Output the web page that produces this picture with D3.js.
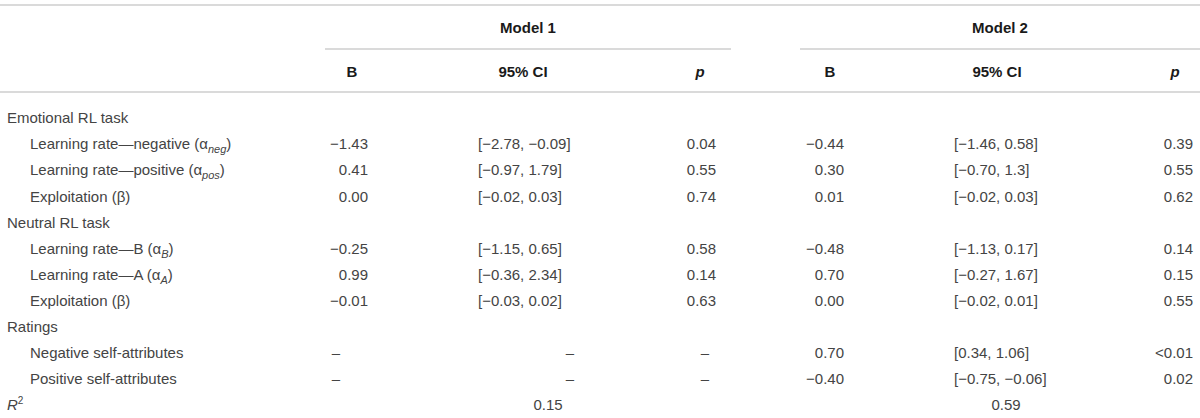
<!DOCTYPE html>
<html>
<head>
<meta charset="utf-8">
<script src="https://cdn.jsdelivr.net/npm/d3@7"></script>
<style>
  html, body { margin: 0; padding: 0; background: #fff; }
  svg { display: block; font-family: "Helvetica Neue", "Liberation Sans", Arial, sans-serif; }
  .cell { font-size: 15px; fill: #444; font-weight: 300; }
  .head { font-size: 15px; fill: #1a1a1a; font-weight: 700; }
</style>
</head>
<body>
<div id="table"></div>
<script>
// row labels (sub = subscript after alpha)
const rowLabels = [
  { text: "Emotional RL task", indent: false },
  { text: "Learning rate\u2014negative (\u03b1", sub: "neg", indent: true },
  { text: "Learning rate\u2014positive (\u03b1", sub: "pos", indent: true },
  { text: "Exploitation (\u03b2)", indent: true },
  { text: "Neutral RL task", indent: false },
  { text: "Learning rate\u2014B (\u03b1", sub: "B", indent: true },
  { text: "Learning rate\u2014A (\u03b1", sub: "A", indent: true },
  { text: "Exploitation (\u03b2)", indent: true },
  { text: "Ratings", indent: false },
  { text: "Negative self-attributes", indent: true },
  { text: "Positive self-attributes", indent: true },
  { text: "R", sup: "2", indent: false, italic: true }
];

const models = ["Model 1", "Model 2"];
const colHeads = ["B", "95% CI", "p"];

// Model 1
const m1B  = ["", "\u22121.43", "0.41", "0.00", "", "\u22120.25", "0.99", "\u22120.01", "", "\u2013", "\u2013", ""];
const m1CI = ["", "[\u22122.78, \u22120.09]", "[\u22120.97, 1.79]", "[\u22120.02, 0.03]", "", "[\u22121.15, 0.65]", "[\u22120.36, 2.34]", "[\u22120.03, 0.02]", "", "\u2013", "\u2013", ""];
const m1P  = ["", "0.04", "0.55", "0.74", "", "0.58", "0.14", "0.63", "", "\u2013", "\u2013", ""];
// Model 2
const m2B  = ["", "\u22120.44", "0.30", "0.01", "", "\u22120.48", "0.70", "0.00", "", "0.70", "\u22120.40", ""];
const m2CI = ["", "[\u22121.46, 0.58]", "[\u22120.70, 1.3]", "[\u22120.02, 0.03]", "", "[\u22121.13, 0.17]", "[\u22120.27, 1.67]", "[\u22120.02, 0.01]", "", "[0.34, 1.06]", "[\u22120.75, \u22120.06]", ""];
const m2P  = ["", "0.39", "0.55", "0.62", "", "0.14", "0.15", "0.55", "", "<0.01", "0.02", ""];
const rSquared = ["0.15", "0.59"];

const width = 1200, height = 418;

const svg = d3.select("#table").append("svg")
  .attr("width", width)
  .attr("height", height);

// vertical layout: body rows on a point scale
const y = d3.scalePoint()
  .domain(d3.range(rowLabels.length))
  .range([118, 405]);

// column layout for each model
const modelSpan = [[325, 731], [800, 1200]];
const colLayout = [
  [ { head: 352, x: 368, anchor: "end" }, { head: 523, x: 478, anchor: "start" }, { head: 700, x: 716, anchor: "end" } ],
  [ { head: 830, x: 844, anchor: "end" }, { head: 997, x: 954, anchor: "start" }, { head: 1175, x: 1193, anchor: "end" } ]
];
// dashes sit at their own spots
const dashX = [[336, 570, 705], [0, 0, 0]];
const values = [[m1B, m1CI, m1P], [m2B, m2CI, m2P]];
const r2X = [548, 1006];

const rule = (x1, x2, yy) => svg.append("line")
  .attr("x1", x1).attr("x2", x2).attr("y1", yy).attr("y2", yy)
  .attr("stroke", "#dadada").attr("stroke-width", 1.8);

rule(0, width, 5);
rule(0, width, 92);
modelSpan.forEach(s => rule(s[0], s[1], 49));

// model headers
svg.selectAll("text.model")
  .data(models)
  .enter().append("text")
  .attr("class", "head")
  .attr("x", (d, i) => (modelSpan[i][0] + modelSpan[i][1]) / 2)
  .attr("y", 28)
  .attr("dy", "0.35em")
  .attr("text-anchor", "middle")
  .text(d => d);

// column headers
models.forEach((m, mi) => {
  svg.selectAll(null)
    .data(colHeads)
    .enter().append("text")
    .attr("class", "head")
    .attr("x", (d, ci) => colLayout[mi][ci].head)
    .attr("y", 72)
    .attr("dy", "0.35em")
    .attr("text-anchor", "middle")
    .style("font-style", d => d === "p" ? "italic" : "normal")
    .text(d => d);
});

// row labels
const labels = svg.selectAll("text.label")
  .data(rowLabels)
  .enter().append("text")
  .attr("class", "cell")
  .attr("x", d => d.indent ? 30 : 7)
  .attr("y", (d, i) => y(i))
  .attr("dy", "0.35em");

labels.append("tspan")
  .style("font-style", d => d.italic ? "italic" : "normal")
  .text(d => d.text);
labels.filter(d => d.sub).append("tspan")
  .attr("dy", 4)
  .style("font-size", "11px")
  .style("font-style", "italic")
  .text(d => d.sub);
labels.filter(d => d.sub).append("tspan")
  .attr("dy", -4)
  .text(")");
labels.filter(d => d.sup).append("tspan")
  .attr("dy", -6)
  .style("font-size", "10px")
  .text(d => d.sup);

// value cells
values.forEach((cols, mi) => {
  cols.forEach((arr, ci) => {
    const c = colLayout[mi][ci];
    svg.selectAll(null)
      .data(arr)
      .enter().append("text")
      .attr("class", "cell")
      .attr("y", (d, i) => y(i))
      .attr("dy", "0.35em")
      .attr("x", d => (d === "\u2013" && dashX[mi][ci]) ? dashX[mi][ci] : c.x)
      .attr("text-anchor", d => (d === "\u2013" && dashX[mi][ci]) ? "middle" : c.anchor)
      .text(d => d);
  });
});

// R squared
svg.selectAll("text.r2")
  .data(rSquared)
  .enter().append("text")
  .attr("class", "cell")
  .attr("x", (d, i) => r2X[i])
  .attr("y", y(rowLabels.length - 1))
  .attr("dy", "0.35em")
  .attr("text-anchor", "middle")
  .text(d => d);
</script>
</body>
</html>
